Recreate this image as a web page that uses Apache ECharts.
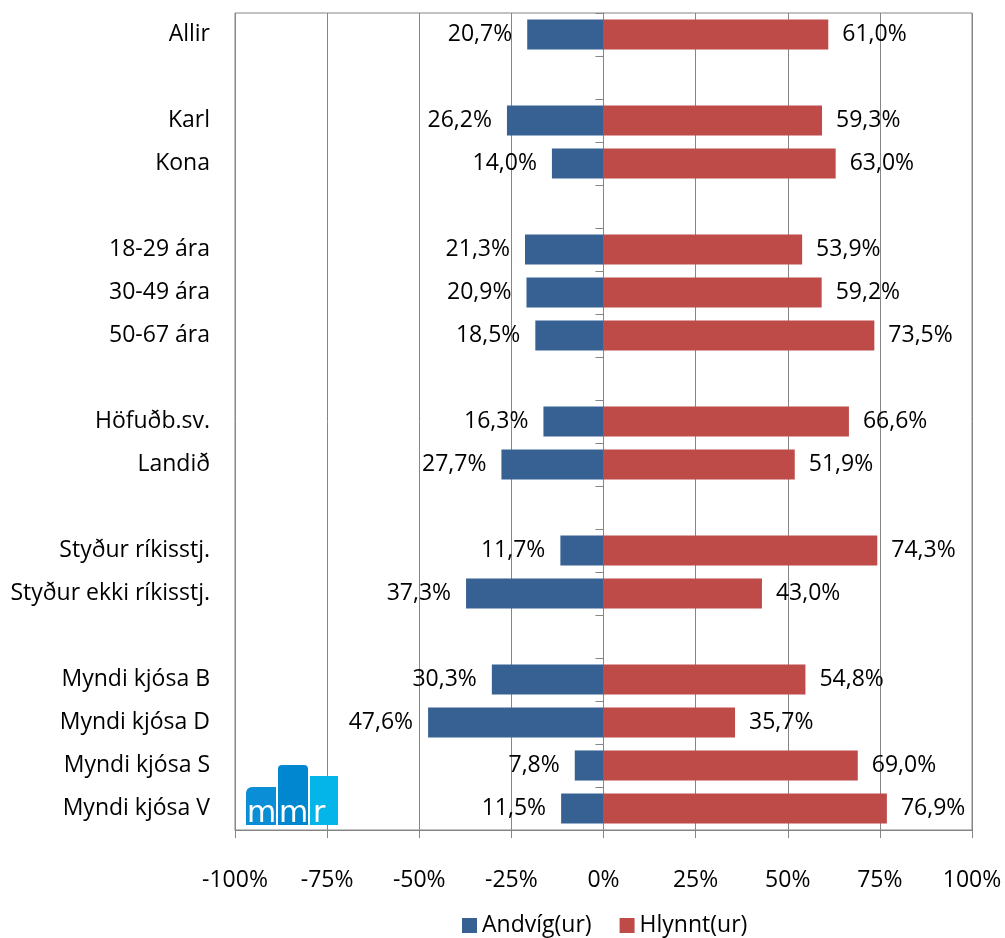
<!DOCTYPE html>
<html>
<head>
<meta charset="utf-8">
<script src="https://cdn.jsdelivr.net/npm/echarts@6/dist/echarts.min.js"></script>
<style>
html, body { margin: 0; padding: 0; background: #fff; }
#chart { width: 1005px; height: 938px; }
</style>
</head>
<body>
<div id="chart"></div>
<script>
// empty strings are the gaps between groups
const categories = ['Allir', ' ', 'Karl', 'Kona', '  ', '18-29 ára', '30-49 ára', '50-67 ára', '   ',
  'Höfuðb.sv.', 'Landið', '    ', 'Styður ríkisstj.', 'Styður ekki ríkisstj.', '     ',
  'Myndi kjósa B', 'Myndi kjósa D', 'Myndi kjósa S', 'Myndi kjósa V'];
const andvig = [-20.7, null, -26.2, -14.0, null, -21.3, -20.9, -18.5, null,
  -16.3, -27.7, null, -11.7, -37.3, null, -30.3, -47.6, -7.8, -11.5];
const hlynnt = [61.0, null, 59.3, 63.0, null, 53.9, 59.2, 73.5, null,
  66.6, 51.9, null, 74.3, 43.0, null, 54.8, 35.7, 69.0, 76.9];
const xTicks = [-100, 100, 25]; // min, max, step

const FONT = 'Open Sans';
const FS = 23;
const GRAY = '#868686';

function pct(v) {
  return Math.abs(v).toFixed(1).replace('.', ',') + '%';
}

const chart = echarts.init(document.getElementById('chart'));
chart.setOption({
  animation: false,
  textStyle: { fontFamily: FONT },
  grid: {
    left: 235, right: 33, top: 13, bottom: 108,
    show: true, borderColor: GRAY, borderWidth: 1
  },
  legend: {
    bottom: 1,
    left: 462,
    padding: 0,
    itemWidth: 15,
    itemHeight: 15,
    itemGap: 28,
    icon: 'rect',
    textStyle: { fontFamily: FONT, fontSize: FS, color: '#000' },
    data: ['Andvíg(ur)', 'Hlynnt(ur)']
  },
  xAxis: {
    type: 'value',
    min: xTicks[0],
    max: xTicks[1],
    interval: xTicks[2],
    axisLine: { show: true, onZero: false, lineStyle: { color: GRAY } },
    axisTick: { show: true, length: 8, lineStyle: { color: GRAY } },
    splitLine: { show: true, lineStyle: { color: GRAY, width: 1 } },
    axisLabel: {
      margin: 39,
      fontSize: FS,
      color: '#000',
      formatter: v => v + '%'
    }
  },
  yAxis: [
    {
      type: 'category',
      inverse: true,
      data: categories,
      axisLine: { show: false, onZero: false },
      axisTick: { show: false },
      axisLabel: { margin: 25, fontSize: FS, color: '#000', padding: [6, 0, 0, 0] }
    },
    {
      type: 'category',
      inverse: true,
      data: categories,
      axisLine: { show: true, onZero: true, lineStyle: { color: GRAY } },
      axisTick: { show: true, inside: true, length: 8, lineStyle: { color: GRAY } },
      axisLabel: { show: false }
    }
  ],
  series: [
    {
      name: 'Andvíg(ur)',
      type: 'bar',
      data: andvig,
      barWidth: '70%',
      barGap: '-100%',
      itemStyle: { color: '#376193' },
      label: {
        show: true,
        position: 'left',
        distance: 15,
        fontSize: FS,
        color: '#000',
        padding: [6, 0, 0, 0],
        formatter: p => pct(p.value)
      }
    },
    {
      name: 'Hlynnt(ur)',
      type: 'bar',
      data: hlynnt,
      barWidth: '70%',
      barGap: '-100%',
      itemStyle: { color: '#BE4B48' },
      label: {
        show: true,
        position: 'right',
        distance: 14,
        fontSize: FS,
        color: '#000',
        padding: [6, 0, 0, 0],
        formatter: p => pct(p.value)
      }
    }
  ],
  graphic: [
    {
      type: 'group',
      left: 246,
      top: 765,
      children: [
        { type: 'rect', shape: { x: 0, y: 24, width: 30, height: 38, r: [6, 0, 0, 0] }, style: { fill: '#0A8FD6' } },
        { type: 'rect', shape: { x: 32, y: 2, width: 30, height: 60, r: [4, 4, 0, 0] }, style: { fill: '#0087CF' } },
        { type: 'rect', shape: { x: 64, y: 13, width: 28, height: 49 }, style: { fill: '#04B5EA' } },
        { type: 'text', x: 1, y: 36, style: { text: 'm', fill: '#fff', font: '30px "DejaVu Sans"' } },
        { type: 'text', x: 33, y: 36, style: { text: 'm', fill: '#fff', font: '30px "DejaVu Sans"' } },
        { type: 'text', x: 67, y: 36, style: { text: 'r', fill: '#fff', font: '30px "DejaVu Sans"' } }
      ]
    }
  ]
});
</script>
</body>
</html>
